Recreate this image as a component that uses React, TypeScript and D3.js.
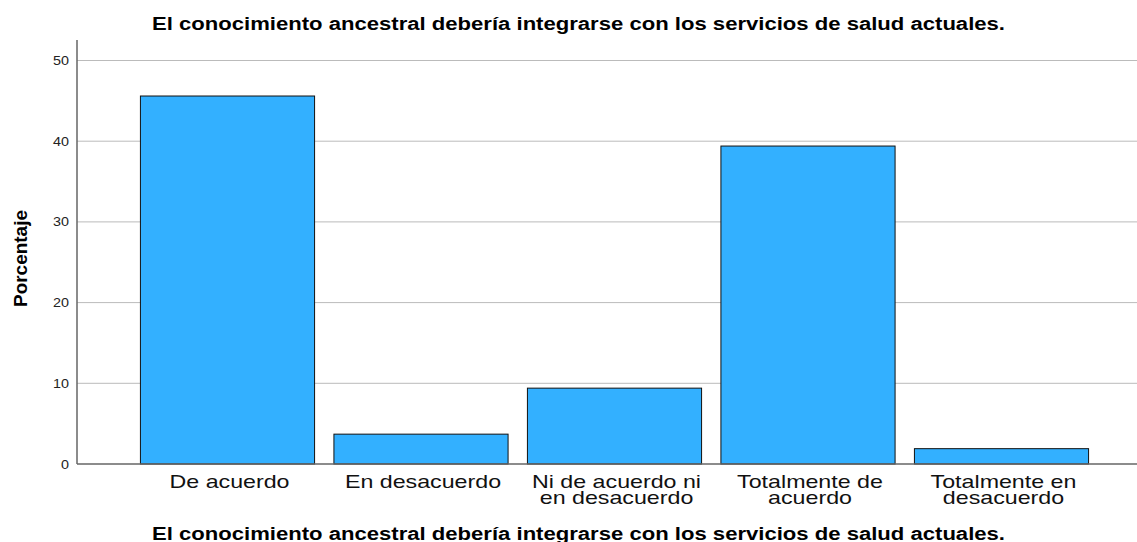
import React from "react";
import * as d3 from "d3";

const categories = [
  ["De acuerdo"],
  ["En desacuerdo"],
  ["Ni de acuerdo ni", "en desacuerdo"],
  ["Totalmente de", "acuerdo"],
  ["Totalmente en", "desacuerdo"],
];
const values = [45.6, 3.7, 9.4, 39.4, 1.9];
const yTicks = [0, 10, 20, 30, 40, 50];
const title = "El conocimiento ancestral debería integrarse con los servicios de salud actuales.";
const yLabel = "Porcentaje";

export default function App() {
  const W = 1137, H = 542;
  const left = 77, right = 1137, top = 40, bottom = 464;
  const y = d3.scaleLinear().domain([0, 50]).range([bottom, 60.5]);
  const x = d3
    .scaleBand<number>()
    .domain(values.map((_, i) => i))
    .range([130.75, 1098.25])
    .paddingInner(0.1)
    .paddingOuter(0.05);
  const font = "'Liberation Sans', Arial, sans-serif";
  return (
    <svg width={W} height={H} style={{ position: "absolute", left: 0, top: 0 }} fontFamily={font}>
      <rect width={W} height={H} fill="#fff" />
      <text x={578.5} y={30} textAnchor="middle" fontWeight="bold" fontSize={17.5} textLength={853} lengthAdjust="spacingAndGlyphs">{title}</text>
      {yTicks.map((t) => (
        <g key={t}>
          {t > 0 && <line x1={left} x2={right} y1={y(t)} y2={y(t)} stroke="#bbbbbb" strokeWidth={1} />}
          <text transform={`translate(69, ${y(t) + 4.5}) scale(1.15,1)`} textAnchor="end" fontSize={12.5} fill="#222">{t}</text>
        </g>
      ))}
      {values.map((v, i) => (
        <rect key={i} x={x(i)} y={y(v)} width={x.bandwidth()} height={bottom - y(v)} fill="#33b0ff" stroke="#111" strokeWidth={1} />
      ))}
      <line x1={left} x2={left} y1={top} y2={bottom} stroke="#666" strokeWidth={1.5} />
      <line x1={left} x2={right} y1={bottom} y2={bottom} stroke="#666" strokeWidth={1.5} />
      {categories.map((lines, i) => {
        const cx = (x(i) as number) + x.bandwidth() / 2 + 2;
        return (
          <text key={i} transform={`translate(${cx}, 487.5) scale(1.29,1)`} textAnchor="middle" fontSize={18} fill="#111">
            {lines.map((l, j) => (
              <tspan key={j} x={0} y={j * 16.5}>{l}</tspan>
            ))}
          </text>
        );
      })}
      <text x={578.5} y={540} textAnchor="middle" fontWeight="bold" fontSize={17.5} textLength={853} lengthAdjust="spacingAndGlyphs">{title}</text>
      <text transform={`translate(27, 258.5) rotate(-90)`} textAnchor="middle" fontWeight="bold" fontSize={18} textLength={97} lengthAdjust="spacingAndGlyphs">{yLabel}</text>
    </svg>
  );
}
